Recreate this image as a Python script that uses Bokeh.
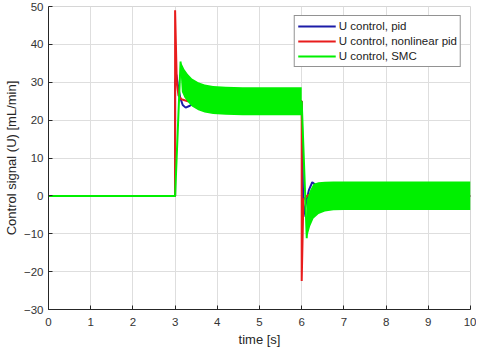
from bokeh.plotting import figure
from bokeh.models import Range1d, FixedTicker, Legend, LegendItem
from bokeh.embed import file_html
from bokeh.resources import INLINE

nan = float("nan")

# ---- data ----
# PID controller
t_pid = [0, 3.0, 3.0, 3.03, 3.07, 3.12, 3.18, 3.25, 3.35, 3.5, 6.0, 6.04, 6.1, 6.17, 6.25, 6.32, 6.4, 6.5, 6.7, 10]
u_pid = [0, 0, 30, 32, 29, 26, 24, 23.3, 23.8, 25, 25, -5.5, -2, 1.5, 3.6, 3.0, 1.5, 0.3, 0, 0]

# nonlinear PID controller
t_nl = [0, 3.0, 3.0, 3.04, 3.08, 3.15, 3.3, 6.0, 6.0, 6.04, 6.08, 6.15, 6.3, 10]
u_nl = [0, 0, 49, 30, 26.5, 25.5, 25, 25, -22.5, -1, -0.5, 0.2, 0, 0]

# SMC: transitions (line) and chattering envelope (band)
t_smc = [0, 3.0, 3.13, nan, 6.0, 6.12]
u_smc = [0, 0, 35.5, nan, 25, -11.2]

t_band1 = [3.13, 3.16, 3.22, 3.3, 3.4, 3.55, 3.7, 3.9, 4.2, 4.6, 6.0]
up_band1 = [35.5, 34.8, 33.4, 32.2, 31.0, 30.0, 29.4, 29.0, 28.8, 28.7, 28.7]
lo_band1 = [33.0, 27.5, 26.0, 24.8, 23.6, 22.6, 22.0, 21.6, 21.4, 21.3, 21.3]

t_band2 = [6.12, 6.2, 6.28, 6.4, 6.55, 6.75, 7.0, 10.0]
up_band2 = [-1.0, 1.5, 3.2, 3.6, 3.75, 3.8, 3.8, 3.8]
lo_band2 = [-11.2, -8.0, -6.0, -4.8, -4.1, -3.8, -3.7, -3.7]

x_ticks = [0, 1, 2, 3, 4, 5, 6, 7, 8, 9, 10]
y_ticks = [-30, -20, -10, 0, 10, 20, 30, 40, 50]

labels = ["U control, pid", "U control, nonlinear pid", "U control, SMC"]
colors = ["#1c1ca8", "#e81c1c", "#00f000"]

FONT = "Liberation Sans"

p = figure(frame_width=422, frame_height=303, output_backend="svg", toolbar_location=None,
           x_range=Range1d(0, 10), y_range=Range1d(-30, 50),
           min_border_left=48, min_border_right=6, min_border_top=6, min_border_bottom=38)
p.background_fill_color = "white"
p.border_fill_color = "white"
p.outline_line_color = "#d6d6d6"

r_pid = p.line(t_pid, u_pid, line_color=colors[0], line_width=2)
r_nl = p.line(t_nl, u_nl, line_color=colors[1], line_width=2)
p.varea(x=t_band1, y1=lo_band1, y2=up_band1, fill_color=colors[2])
p.varea(x=t_band2, y1=lo_band2, y2=up_band2, fill_color=colors[2])
r_smc = p.line(t_smc, u_smc, line_color=colors[2], line_width=2)

for ax in (p.xaxis[0], p.yaxis[0]):
    ax.major_tick_in = 4
    ax.major_tick_out = 0
    ax.minor_tick_line_color = None
    ax.axis_line_color = "#262626"
    ax.major_tick_line_color = "#262626"
    ax.major_label_text_font = FONT
    ax.major_label_text_font_size = "11.5px"
    ax.major_label_text_color = "#333333"
    ax.axis_label_text_font = FONT
    ax.axis_label_text_font_size = "13px"
    ax.axis_label_text_font_style = "normal"
    ax.axis_label_text_color = "#262626"

p.xaxis.ticker = FixedTicker(ticks=x_ticks)
p.yaxis.ticker = FixedTicker(ticks=y_ticks)
p.xgrid.ticker = FixedTicker(ticks=x_ticks)
p.ygrid.ticker = FixedTicker(ticks=y_ticks)
p.xgrid.grid_line_color = "#dedede"
p.ygrid.grid_line_color = "#dedede"
p.xaxis.axis_label = "time [s]"
p.yaxis.axis_label = "Control signal (U) [mL/min]"
p.xaxis.major_label_standoff = 8
p.xaxis.axis_label_standoff = 3
p.yaxis.major_label_standoff = 5
p.yaxis.axis_label_standoff = 2

legend = Legend(items=[LegendItem(label=labels[0], renderers=[r_pid]),
                       LegendItem(label=labels[1], renderers=[r_nl]),
                       LegendItem(label=labels[2], renderers=[r_smc])],
                location="top_right")
legend.border_line_color = "#262626"
legend.border_line_width = 1
legend.background_fill_color = "white"
legend.background_fill_alpha = 1
legend.label_text_font = FONT
legend.label_text_font_size = "11.5px"
legend.label_text_color = "#222222"
legend.glyph_width = 38
legend.glyph_height = 14
legend.label_height = 14
legend.label_standoff = 3
legend.spacing = 1
legend.padding = 3
legend.margin = 9
p.add_layout(legend)

open("out.html", "w").write(file_html(p, INLINE))
